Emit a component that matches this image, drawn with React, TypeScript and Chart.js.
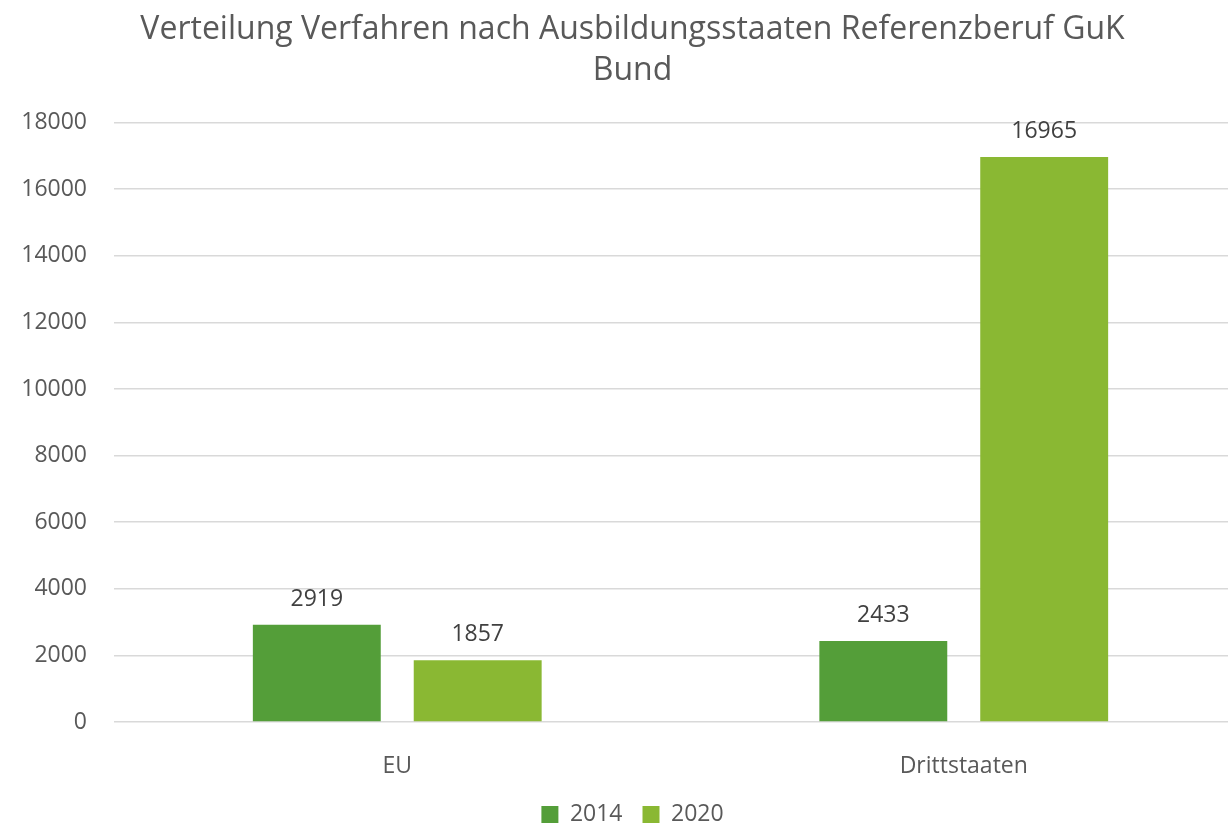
import React, { useEffect, useRef } from "react";
import { Chart, registerables } from "chart.js";

Chart.register(...registerables);

const categories = ["EU", "Drittstaaten"];
const series2014 = [2919, 2433];
const series2020 = [1857, 16965];
const seriesNames = ["2014", "2020"];
const titleLines = ["Verteilung Verfahren nach Ausbildungsstaaten Referenzberuf GuK", "Bund"];

const FONT = "'Open Sans', 'DejaVu Sans', sans-serif";

const dataLabels = {
  id: "dataLabels",
  afterDatasetsDraw(chart: any) {
    const ctx = chart.ctx;
    ctx.save();
    ctx.font = `23px ${FONT}`;
    ctx.fillStyle = "#404040";
    ctx.textAlign = "center";
    ctx.textBaseline = "alphabetic";
    chart.data.datasets.forEach((ds: any, i: number) => {
      const meta = chart.getDatasetMeta(i);
      meta.data.forEach((el: any, j: number) => {
        ctx.fillText(String(ds.data[j]), el.x, el.y - 19);
      });
    });
    ctx.restore();
  },
};

export default function App() {
  const ref = useRef<HTMLCanvasElement | null>(null);
  useEffect(() => {
    if (!ref.current) return;
    const chart = new Chart(ref.current, {
      type: "bar",
      data: {
        labels: categories,
        datasets: [
          { label: seriesNames[0], data: series2014, backgroundColor: "#549E39", categoryPercentage: 0.568, barPercentage: 0.795 },
          { label: seriesNames[1], data: series2020, backgroundColor: "#8AB833", categoryPercentage: 0.568, barPercentage: 0.795 },
        ],
      },
      options: {
        animation: false,
        responsive: true,
        maintainAspectRatio: false,
        layout: { padding: { left: 18, right: 30, top: 0, bottom: 0 } },
        plugins: {
          title: {
            display: true,
            text: titleLines,
            color: "#595959",
            font: { family: FONT, size: 32, weight: "normal", lineHeight: 1.26 },
            padding: { top: 10, bottom: 32 },
          },
          legend: {
            position: "bottom",
            labels: {
              color: "#595959",
              font: { family: FONT, size: 23 },
              boxWidth: 17,
              boxHeight: 17,
              padding: 20,
            },
          },
          tooltip: { enabled: false },
        },
        scales: {
          x: {
            grid: { display: false },
            border: { display: false },
            ticks: { color: "#595959", font: { family: FONT, size: 23 }, padding: 23 },
            afterFit: (s: any) => { s.height = 61; },
          },
          y: {
            min: 0,
            max: 18000,
            ticks: {
              stepSize: 2000,
              color: "#595959",
              font: { family: FONT, size: 23 },
              padding: 27,
              callback: (v: any) => String(v),
            },
            grid: { color: "#D9D9D9", lineWidth: 1.5, drawTicks: false },
            border: { display: false },
            afterFit: (s: any) => { s.width = 96; },
          },
        },
      },
      plugins: [dataLabels],
    });
    return () => chart.destroy();
  }, []);
  return (
    <div style={{ position: "fixed", left: 0, top: 0, width: 1277, height: 836, background: "#fff" }}>
      <canvas ref={ref} />
    </div>
  );
}
